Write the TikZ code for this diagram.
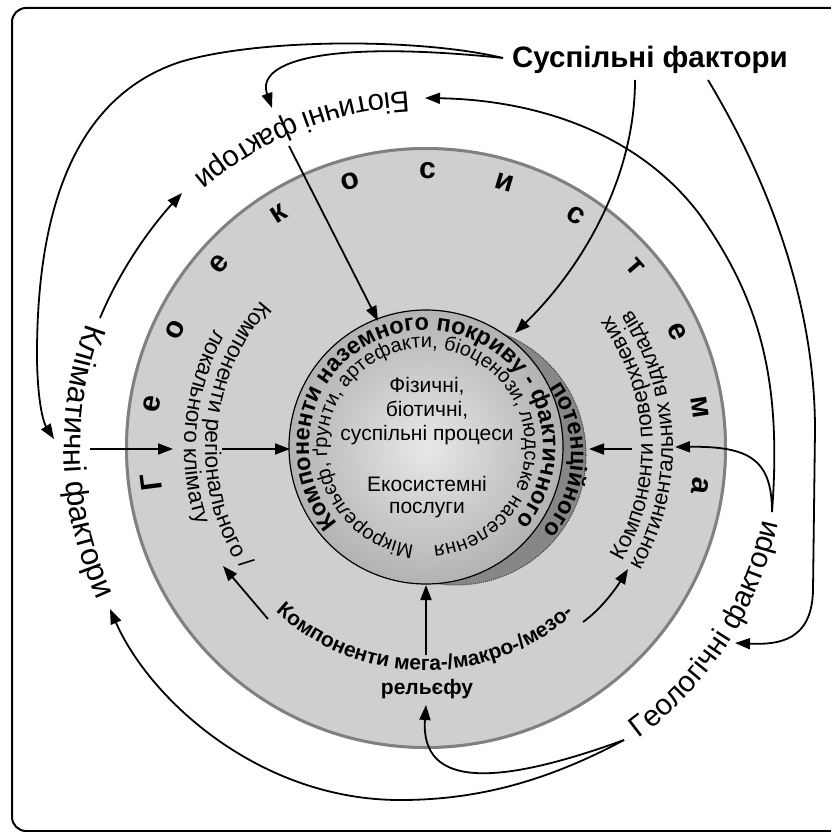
\documentclass[tikz,border=0pt]{standalone}
\usepackage{fontspec}
\setmainfont{Liberation Sans}
\usetikzlibrary{arrows.meta,decorations.text}
\newcommand\fsz[1]{\fontsize{#1}{#1}\selectfont}
% #1 centre, #2 radius, #3 start angle, #4 end angle, #5 format, #6 text
\newcommand\arctext[6]{%
  \path[shift={#1},decorate,decoration={text along path,text align=center,text={|#5|#6}}]
    (#3:#2) arc[start angle=#3,end angle=#4,radius=#2];}
\begin{document}
\begin{tikzpicture}[x=1pt,y=1pt,
  conn/.style={line width=1.8pt,-{Triangle[length=15pt,width=11pt]}},
  frame/.style={line width=2pt,rounded corners=14pt},
  ringletter/.style={font=\fsz{30}\bfseries,inner sep=0pt},
  centretext/.style={align=center,inner sep=0pt},
  factor/.style={font=\fsz{29.5}\bfseries,inner sep=0pt}]
\useasboundingbox (0,0) rectangle (830,-832);
\draw[frame] (12,-8) rectangle (850,-831);

% discs
\fill[black!19] (426,-448) circle (301);
\draw[black!50,line width=3pt] (426,-448) circle (299.5);
\fill[black!47] (456,-455) circle (130);
\draw[black!75,densely dotted,line width=1pt] (456,-455) circle (130);
\shade[inner color=black!9,outer color=black!30] (426,-447) circle (137);
\draw[line width=1.2pt] (426,-447) circle (137);

% ring letters
\begin{scope}[shift={(426,-448)}]
\foreach \ch [count=\i from 0] in {Г,е,о,е,к,о,с,и,с,т,е,м,а}{
  \pgfmathsetmacro\ang{187.2-16.25*\i}
  \node[ringletter,rotate=\ang-90] (g\i) at (\ang:277) {\ch};
}
\end{scope}

% factor texts
\node[factor] (sus) at (650,-60) {Суспільні фактори};
\arctext{(426,-448)}{362}{142.3}{222.3}{\fsz{31}}{Кліматичні фактори}
\arctext{(426,-448)}{357}{76.65}{146.65}{\fsz{29.5}}{Біотичні фактори}
\arctext{(426,-448)}{360}{-72.95}{7.05}{\fsz{29.5}}{Геологічні фактори}

% ring component texts
\arctext{(426,-448)}{221}{130.7}{220.7}{\fsz{22.5}}{Компоненти регіонального /}
\arctext{(426,-448)}{242}{139.6}{209.6}{\fsz{22.5}}{локального клімату}
\arctext{(426,-448)}{227}{-37.1}{42.9}{\fsz{22}}{Компоненти поверхневих}
\arctext{(426,-448)}{247}{-37.85}{42.15}{\fsz{22}}{континентальних відкладів}
\arctext{(426,-448)}{222.5}{219.55}{319.55}{\fsz{21}\bfseries}{Компоненти мега-/макро-/мезо-}
\node[font=\fsz{21}\bfseries,inner sep=0pt] (rel) at (427,-689) {рельєфу};

% inner texts
\arctext{(426,-447)}{117}{240.6}{-59.4}{\fsz{23.5}\bfseries}{Компоненти наземного покриву - фактичного}
\arctext{(456,-455)}{115}{47.25}{-52.75}{\fsz{23.5}\bfseries}{потенційного}
\arctext{(426,-447)}{99}{268.75}{-91.25}{\fsz{20}}{Мікрорельєф, ґрунти, артефакти, біоценози, людське населення}
\node[centretext,font=\fontsize{21}{24}\selectfont] (proc) at (427,-411) {Фізичні,\\біотичні,\\суспільні процеси};
\node[centretext,font=\fontsize{21}{22}\selectfont] (eco) at (427,-497) {Екосистемні\\послуги};

% anchor points of connectors
\coordinate (susW) at (503,-58);
\coordinate (susA) at (635,-80);
\coordinate (susB) at (708,-80);
\coordinate (bioT) at (272,-108);
\coordinate (bioS) at (289,-146);
\coordinate (bioR) at (425,-98);
\coordinate (klimN) at (54,-439);
\coordinate (klimTop) at (100,-318);
\coordinate (bioSW) at (182,-193);
\coordinate (klimE) at (90,-449);
\coordinate (regW) at (173,-449);
\coordinate (regE) at (222,-449);
\coordinate (innW) at (290,-449);
\coordinate (megaN) at (426,-655);
\coordinate (innS) at (426,-585);
\coordinate (megaW) at (268,-619);
\coordinate (regS) at (223,-566);
\coordinate (megaE) at (583,-622);
\coordinate (surS) at (628,-569);
\coordinate (surW) at (632,-449);
\coordinate (cresE) at (589,-449);
\coordinate (geoN) at (772,-512);
\coordinate (surE) at (675,-447);
\coordinate (geoE) at (735,-643);
\coordinate (cresN) at (515,-333);
\coordinate (innNW) at (378,-321);
\coordinate (geoW) at (624,-740);
\coordinate (relS) at (426,-705);
\coordinate (klimS) at (110,-609);

% connectors
\draw[conn] (susW) .. controls (330,-40) and (255,-60) .. (bioT);
\draw[conn] (susW) .. controls (420,-38) and (260,-38) .. (180,-62) .. controls (80,-95) and (36,-200) .. (37,-360) .. controls (38,-410) and (45,-425) .. (klimN);
\draw[conn] (klimTop) .. controls (120,-270) and (150,-228) .. (bioSW);
\draw[conn] (klimE) -- (regW);
\draw[conn] (regE) -- (innW);
\draw[conn] (megaN) -- (innS);
\draw[conn] (megaW) -- (regS);
\draw[conn] (megaE) .. controls (600,-610) and (615,-590) .. (surS);
\draw[conn] (surW) -- (cresE);
\draw[conn] (geoN) .. controls (772,-460) and (750,-446) .. (surE);
\draw[conn] (geoN) .. controls (782,-380) and (760,-300) .. (700,-215) .. controls (640,-135) and (540,-100) .. (bioR);
\draw[conn] (susB) .. controls (780,-200) and (815,-320) .. (815,-430) -- (813,-590) .. controls (812,-640) and (780,-645) .. (geoE);
\draw[conn] (susA) .. controls (635,-180) and (580,-270) .. (cresN);
\draw[conn] (bioS) -- (innNW);
\draw[conn] (geoW) .. controls (500,-785) and (420,-790) .. (relS);
\draw[conn] (geoW) .. controls (540,-785) and (470,-800) .. (400,-800) .. controls (260,-800) and (150,-700) .. (klimS);
\end{tikzpicture}
\end{document}
